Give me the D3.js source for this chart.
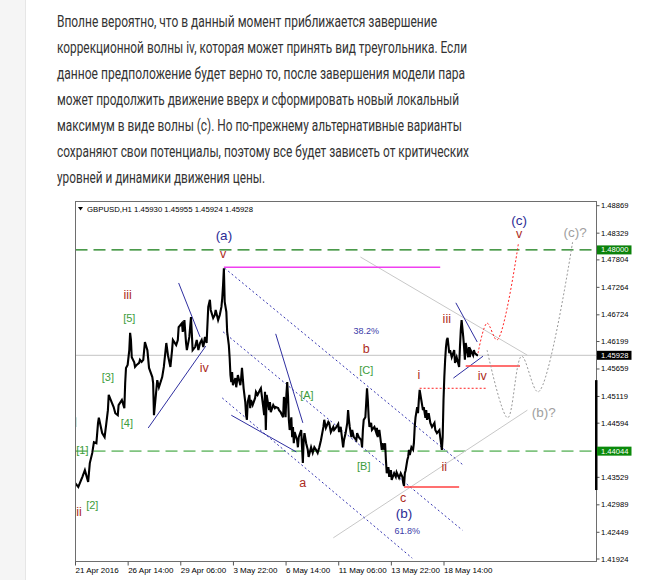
<!DOCTYPE html>
<html><head><meta charset="utf-8">
<script src="https://cdn.jsdelivr.net/npm/d3@7"></script>
<style>html,body{margin:0;padding:0;background:#fff;}svg{display:block;}</style>
</head><body>
<svg id="c" width="671" height="580"></svg>
<script>
// ---------- DATA ----------
const paragraphLines = [
  "Вполне вероятно, что в данный момент приближается завершение",
  "коррекционной волны iv, которая может принять вид треугольника. Если",
  "данное предположение будет верно то, после завершения модели пара",
  "может продолжить движение вверх и сформировать новый локальный",
  "максимум в виде волны (c). Но по-прежнему альтернативные варианты",
  "сохраняют свои потенциалы, поэтому все будет зависеть от критических",
  "уровней и динамики движения цены."
];
const chartTitle = "GBPUSD,H1  1.45930 1.45955 1.45924 1.45928";

// price path: [bar index (H1), price]
const priceSeries = [
[0,1.4342],[4,1.4334],[9,1.4354],[12,1.4367],[16,1.4344],[18,1.4381],[21,1.4401],[23,1.4422],[26,1.4420],[28,1.4460],
[29,1.4470],[33,1.4440],[36,1.4432],[38,1.4458],[40,1.4485],[41,1.4515],[45,1.4499],[47,1.4491],[49,1.4479],[52,1.4475],
[53,1.4495],[57,1.4505],[60,1.4489],[61,1.4538],[62,1.4568],[64,1.4574],[66,1.4603],[67,1.4637],[68,1.4623],[69,1.4589],
[72,1.4579],[73,1.4570],[75,1.4574],[78,1.4578],[79,1.4584],[81,1.4580],[83,1.4584],[85,1.4619],[88,1.4603],[90,1.4568],
[94,1.4550],[95,1.4538],[96,1.4475],[100,1.4544],[102,1.4530],[106,1.4550],[108,1.4570],[111,1.4617],[113,1.4593],[116,1.4570],
[118,1.4603],[119,1.4623],[123,1.4613],[125,1.4623],[126,1.4648],[130,1.4656],[131,1.4639],[133,1.4662],[135,1.4617],[136,1.4603],
[139,1.4629],[141,1.4668],[142,1.4637],[143,1.4603],[146,1.4609],[148,1.4623],[150,1.4603],[152,1.4617],[154,1.4623],[156,1.4609],
[158,1.4629],[160,1.4617],[162,1.4688],[164,1.4702],[165,1.4682],[168,1.4666],[170,1.4672],[171,1.4682],[174,1.4662],[176,1.4672],
[178,1.4688],[179,1.4705],[180,1.4731],[181,1.4764],[182,1.4698],[184,1.4678],[185,1.4639],[187,1.4613],[188,1.4588],[189,1.4554],
[190,1.4540],[191,1.4560],[192,1.4534],[195,1.4548],[196,1.4530],[198,1.4554],[201,1.4534],[202,1.4548],[203,1.4568],[205,1.4528],
[207,1.4501],[208,1.4475],[209,1.4466],[210,1.4501],[212,1.4515],[213,1.4489],[214,1.4505],[216,1.4495],[219,1.4509],[220,1.4521],
[222,1.4515],[225,1.4525],[226,1.4528],[229,1.4489],[230,1.4475],[231,1.4521],[232,1.4446],[233,1.4515],[236,1.4485],[237,1.4501],
[238,1.4481],[241,1.4495],[243,1.4489],[244,1.4491],[247,1.4489],[248,1.4485],[250,1.4481],[253,1.4471],[254,1.4511],[255,1.4499],
[256,1.4471],[257,1.4515],[258,1.4540],[259,1.4511],[260,1.4466],[261,1.4446],[263,1.4471],[264,1.4432],[265,1.4452],[266,1.4420],
[267,1.4442],[270,1.4426],[271,1.4412],[272,1.4432],[275,1.4446],[276,1.4412],[277,1.4381],[278,1.4426],[279,1.4440],[281,1.4420],
[283,1.4407],[284,1.4393],[287,1.4412],[289,1.4401],[291,1.4412],[293,1.4407],[295,1.4401],[297,1.4412],[299,1.4426],[302,1.4452],
[303,1.4466],[305,1.4450],[308,1.4462],[309,1.4460],[311,1.4442],[314,1.4452],[315,1.4446],[317,1.4450],[320,1.4458],[321,1.4442],
[323,1.4452],[326,1.4412],[327,1.4426],[329,1.4440],[331,1.4460],[332,1.4485],[333,1.4466],[334,1.4452],[336,1.4432],[337,1.4446],
[339,1.4432],[342,1.4426],[343,1.4440],[345,1.4432],[348,1.4426],[349,1.4412],[350,1.4446],[351,1.4466],[353,1.4471],[354,1.4499],
[355,1.4528],[356,1.4505],[357,1.4471],[358,1.4452],[360,1.4460],[361,1.4446],[364,1.4452],[366,1.4442],[367,1.4450],[368,1.4432],
[370,1.4446],[372,1.4420],[373,1.4407],[374,1.4420],[376,1.4407],[377,1.4420],[378,1.4387],[379,1.4361],[381,1.4373],[382,1.4354],
[384,1.4367],[385,1.4348],[388,1.4361],[390,1.4354],[391,1.4363],[394,1.4352],[396,1.4361],[398,1.4354],[399,1.4342],[400,1.4336],
[401,1.4361],[402,1.4367],[404,1.4387],[405,1.4393],[406,1.4407],[407,1.4397],[409,1.4412],[411,1.4407],[412,1.4420],[413,1.4452],
[414,1.4471],[416,1.4491],[417,1.4479],[418,1.4505],[419,1.4525],[421,1.4505],[423,1.4485],[424,1.4491],[426,1.4470],[427,1.4485],
[428,1.4466],[430,1.4479],[432,1.4460],[434,1.4452],[437,1.4460],[438,1.4446],[440,1.4440],[443,1.4446],[444,1.4432],[445,1.4420],
[446,1.4407],[447,1.4432],[448,1.4505],[449,1.4550],[450,1.4584],[451,1.4609],[452,1.4623],[453,1.4627],[455,1.4597],[456,1.4603],
[458,1.4589],[461,1.4603],[462,1.4578],[464,1.4589],[467,1.4570],[468,1.4609],[469,1.4642],[470,1.4662],[472,1.4629],[473,1.4609],
[474,1.4584],[475,1.4617],[478,1.4589],[479,1.4609],[480,1.4589],[481,1.4603],[484,1.4593],[485,1.4603],[486,1.4597],[489,1.4593],
[490,1.45928]
];

const xTickBars = [0,64,128,192,256,320,384,448];
const xTickLabels = ["21 Apr 2016","26 Apr 14:00","29 Apr 06:00","3 May 22:00","6 May 14:00","11 May 06:00","13 May 22:00","18 May 14:00"];
const yTickValues = [1.48869,1.48329,1.47804,1.47264,1.46724,1.46199,1.45659,1.45119,1.44594,1.43529,1.42989,1.42449,1.41924];
const priceDomain = [1.41924,1.48869];
const barDomain = [0,634];

const levelHigh = 1.48000;   // green dashed
const levelLow = 1.44044;    // light green dashed
const lastPrice = 1.45928;   // current price
const scrollRange = [1.4544,1.4328];
const leftMark = [1.4471,1.4452];

const magentaSegs = [[[181,1.4766],[444,1.4766]]];
const redSolidSegs = [[[400,1.4334],[467,1.4334]],[[475,1.4572],[541,1.4572]]];
const redDottedSegs = [[[419,1.4528],[500,1.4528]]];
const blueSolidSegs = [
  [[126,1.4735],[152,1.4629]],
  [[89,1.4450],[159,1.4611]],
  [[190,1.4475],[269,1.4403]],
  [[244,1.4635],[277,1.4460]],
  [[463,1.4696],[489,1.4619]],
  [[460,1.4548],[496,1.4591]]
];
const blueDottedSegs = [
  [[182,1.4764],[472,1.4377]],
  [[180,1.4639],[471,1.4249]],
  [[179,1.4509],[410,1.4194]]
];
const graySegs = [
  [[347,1.4786],[550,1.4593]],
  [[314,1.4234],[550,1.4485]]
];
const redForecast = [[490,1.4597],[501,1.4656],[513,1.4623],[539,1.4812]];
const grayForecast = [[501,1.4603],[526,1.4470],[543,1.4591],[563,1.4521],[605,1.4816]];

const navyLabels = [["(a)",181,1.4829],["(b)",400,1.4281],["(c)",540,1.4857]];
const pctLabels = [["38.2%",354,1.4641],["61.8%",404,1.4247]];
const redLabels = [["v",180,1.4792],["iii",64,1.4711],["iv",157,1.4568],["ii",5,1.4285],["b",354,1.4605],["a",277,1.4342],
  ["i",418,1.4554],["iii",452,1.4664],["iv",495,1.4552],["ii",449,1.4373],["c",399,1.4312],["v",540,1.4831]];
const greenLabels = [["[5]",66,1.4666],["[3]",40,1.4550],["[4]",63,1.4460],["[1]",9,1.4407],["[2]",21,1.4298],
  ["[C]",354,1.4564],["[A]",282,1.4515],["[B]",351,1.4375]];
const grayLabels = [["(c)?",608,1.4835],["(b)?",570,1.4481]];

// ---------- LAYOUT ----------
const paraWidths = [380,410,408,402,405,412,208];
const F = {l:75.5, t:201.5, r:596.5, b:561.5};
const svg = d3.select('#c');
const x = d3.scaleLinear().domain(barDomain).range([75,596.5]);
const y = d3.scaleLinear().domain(priceDomain).range([559,205.7]);
const MT = "'Liberation Sans', Arial, sans-serif";

svg.append('rect').attr('width',671).attr('height',580).attr('fill','#fff');
svg.append('rect').attr('width',25).attr('height',580).attr('fill','#f5f5f5');
svg.append('line').attr('x1',25.5).attr('x2',25.5).attr('y1',0).attr('y2',580).attr('stroke','#e6e6e6');

paragraphLines.forEach((t,k)=>{
  svg.append('text').attr('x',57).attr('y',27.3+k*25.9)
    .attr('font-family',"Roboto, 'Noto Sans', sans-serif").attr('font-size',17).attr('fill','#333')
    .attr('textLength',paraWidths[k]).attr('lengthAdjust','spacingAndGlyphs').text(t);
});

svg.append('clipPath').attr('id','clip').append('rect')
  .attr('x',F.l).attr('y',F.t).attr('width',F.r-F.l).attr('height',F.b-F.t);
const g = svg.append('g').attr('clip-path','url(#clip)');

const seg = d3.line().x(d=>x(d[0])).y(d=>y(d[1]));
function hline(v,stroke,dash,w){
  g.append('line').attr('x1',F.l).attr('x2',F.r).attr('y1',y(v)).attr('y2',y(v))
   .attr('stroke',stroke).attr('stroke-width',w).attr('stroke-dasharray',dash);
}
hline(lastPrice,'#c4c4c4',null,1);
hline(levelHigh,'#117a11','12,6',1.2);
hline(levelLow,'#80c480','12,6',1.6);

function segs(arr,stroke,w,dash){
  arr.forEach(s=>g.append('path').attr('d',seg(s)).attr('fill','none')
    .attr('stroke',stroke).attr('stroke-width',w).attr('stroke-dasharray',dash));
}
segs(graySegs,'#c8c8c8',1,null);
segs(blueDottedSegs,'#3535b0',1,'2,2.5');
segs(blueSolidSegs,'#2f2fa0',1,null);
segs(magentaSegs,'#f040f0',1.6,null);
segs(redSolidSegs,'#ff4040',1.5,null);
segs(redDottedSegs,'#ff2020',1,'2,2');

const smooth = d3.line().x(d=>x(d[0])).y(d=>y(d[1])).curve(d3.curveCatmullRom.alpha(0.5));
g.append('path').attr('d',smooth(grayForecast)).attr('fill','none').attr('stroke','#999')
  .attr('stroke-width',1).attr('stroke-dasharray','2,2');
g.append('path').attr('d',smooth(redForecast)).attr('fill','none').attr('stroke','#ff2020')
  .attr('stroke-width',1).attr('stroke-dasharray','2,2');

g.append('path').attr('d',seg(priceSeries)).attr('fill','none').attr('stroke','#000')
  .attr('stroke-width',2.1).attr('stroke-linejoin','miter');

g.append('line').attr('x1',x(0)+0.5).attr('x2',x(0)+0.5).attr('y1',y(leftMark[0])).attr('y2',y(leftMark[1]))
  .attr('stroke','#2aa198').attr('stroke-width',1.5);

function labels(arr,color,size){
  arr.forEach(d=>svg.append('text').attr('x',x(d[1])).attr('y',y(d[2]))
    .attr('text-anchor','middle').attr('dominant-baseline','central')
    .attr('font-family',MT).attr('font-size',size).attr('fill',color).text(d[0]));
}
labels(navyLabels,'#2c2c96',13.5);
labels(pctLabels,'#3a3aa8',9);
labels(redLabels,'#ad2c1c',12.5);
labels(greenLabels,'#3d9d3d',11);
labels(grayLabels,'#a0a0a0',13.5);

// frame
svg.append('rect').attr('x',F.l).attr('y',F.t).attr('width',F.r-F.l).attr('height',F.b-F.t)
  .attr('fill','none').attr('stroke','#6e6e6e').attr('stroke-width',1);

// title
svg.append('path').attr('d','M78,207 L83,207 L80.5,210.5 Z').attr('fill','#000');
svg.append('text').attr('x',87).attr('y',212).attr('font-family',MT).attr('font-size',7.6)
  .attr('fill','#000').attr('textLength',166).attr('lengthAdjust','spacingAndGlyphs').text(chartTitle);

// right axis
const ra = svg.append('g');
yTickValues.forEach(v=>{
  ra.append('line').attr('x1',F.r).attr('x2',F.r+3).attr('y1',y(v)).attr('y2',y(v)).attr('stroke','#555');
  ra.append('text').attr('x',F.r+4.5).attr('y',y(v)).attr('dominant-baseline','central')
    .attr('font-family',MT).attr('font-size',7.6).attr('fill','#000').text(v.toFixed(5));
});
ra.append('rect').attr('x',F.r-1.5).attr('y',y(scrollRange[0])).attr('width',2.5)
  .attr('height',y(scrollRange[1])-y(scrollRange[0])).attr('fill','#000');
[[levelHigh,'#0b820b'],[lastPrice,'#000'],[levelLow,'#0b8a0b']].forEach(([v,c])=>{
  ra.append('rect').attr('x',F.r+0.5).attr('y',y(v)-4.5).attr('width',34.5).attr('height',9).attr('fill',c);
  ra.append('text').attr('x',F.r+4.5).attr('y',y(v)).attr('dominant-baseline','central')
    .attr('font-family',MT).attr('font-size',7.6).attr('fill','#fff').text(v.toFixed(5));
});

// bottom axis
xTickBars.forEach((b,k)=>{
  svg.append('line').attr('x1',x(b)+0.5).attr('x2',x(b)+0.5).attr('y1',F.b).attr('y2',F.b+4).attr('stroke','#555');
  svg.append('text').attr('x',x(b)+0.5).attr('y',572.5).attr('font-family',MT).attr('font-size',8)
    .attr('fill','#000').text(xTickLabels[k]);
});
</script>
</body></html>
